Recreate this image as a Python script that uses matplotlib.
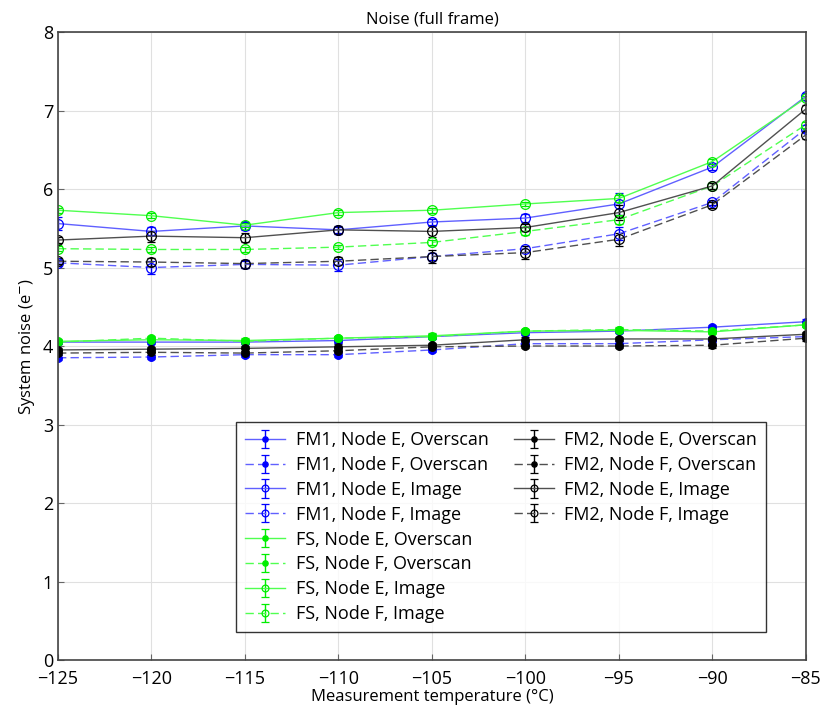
import matplotlib
matplotlib.use('Agg')
import matplotlib.pyplot as plt
from matplotlib.lines import Line2D
import numpy as np

plt.rcParams['font.family'] = ['Open Sans', 'DejaVu Sans']

temps = [-125, -120, -115, -110, -105, -100, -95, -90, -85]

# overscan noise
fm1_e_os = [4.05, 4.05, 4.05, 4.07, 4.12, 4.17, 4.19, 4.24, 4.31]
fm1_f_os = [3.85, 3.86, 3.89, 3.89, 3.95, 4.03, 4.03, 4.08, 4.12]
fs_e_os = [4.06, 4.08, 4.07, 4.10, 4.13, 4.19, 4.20, 4.18, 4.27]
fs_f_os = [4.05, 4.10, 4.06, 4.10, 4.12, 4.19, 4.21, 4.19, 4.27]
fm2_e_os = [3.95, 3.96, 3.97, 3.99, 4.01, 4.08, 4.09, 4.09, 4.15]
fm2_f_os = [3.91, 3.92, 3.91, 3.94, 3.99, 4.00, 4.00, 4.01, 4.10]

# image noise
fm1_e_im = [5.56, 5.46, 5.53, 5.48, 5.58, 5.63, 5.81, 6.28, 7.18]
fm1_f_im = [5.06, 5.00, 5.04, 5.03, 5.14, 5.24, 5.43, 5.83, 6.77]
fs_e_im = [5.73, 5.66, 5.54, 5.70, 5.73, 5.81, 5.88, 6.35, 7.16]
fs_f_im = [5.24, 5.23, 5.23, 5.26, 5.32, 5.46, 5.61, 6.04, 6.82]
fm2_e_im = [5.35, 5.40, 5.38, 5.48, 5.46, 5.51, 5.70, 6.04, 7.02]
fm2_f_im = [5.08, 5.07, 5.05, 5.08, 5.14, 5.19, 5.36, 5.80, 6.69]

# error bars
err_os = [0.03, 0.03, 0.03, 0.03, 0.03, 0.03, 0.03, 0.03, 0.03]
fm1_e_err = [0.08, 0.05, 0.05, 0.04, 0.04, 0.05, 0.14, 0.04, 0.04]
fm1_f_err = [0.04, 0.08, 0.04, 0.08, 0.04, 0.04, 0.08, 0.03, 0.04]
fs_e_err = [0.03, 0.03, 0.03, 0.03, 0.03, 0.03, 0.04, 0.03, 0.03]
fs_f_err = [0.03, 0.03, 0.03, 0.03, 0.03, 0.05, 0.06, 0.04, 0.04]
fm2_e_err = [0.04, 0.07, 0.06, 0.05, 0.07, 0.05, 0.10, 0.04, 0.05]
fm2_f_err = [0.04, 0.05, 0.05, 0.05, 0.08, 0.08, 0.08, 0.04, 0.05]

series = [
    # label, values, errors, dark colour, line colour, linestyle, filled
    ("FM1, Node E, Overscan", fm1_e_os, err_os, '#0000ff', '#6060ff', '-', True),
    ("FM1, Node F, Overscan", fm1_f_os, err_os, '#0000ff', '#6060ff', '--', True),
    ("FM1, Node E, Image", fm1_e_im, fm1_e_err, '#0000ff', '#6060ff', '-', False),
    ("FM1, Node F, Image", fm1_f_im, fm1_f_err, '#0000ff', '#6060ff', '--', False),
    ("FS, Node E, Overscan", fs_e_os, err_os, '#00ee00', '#50ff50', '-', True),
    ("FS, Node F, Overscan", fs_f_os, err_os, '#00ee00', '#50ff50', '--', True),
    ("FS, Node E, Image", fs_e_im, fs_e_err, '#00ee00', '#50ff50', '-', False),
    ("FS, Node F, Image", fs_f_im, fs_f_err, '#00ee00', '#50ff50', '--', False),
    ("FM2, Node E, Overscan", fm2_e_os, err_os, '#000000', '#505050', '-', True),
    ("FM2, Node F, Overscan", fm2_f_os, err_os, '#000000', '#505050', '--', True),
    ("FM2, Node E, Image", fm2_e_im, fm2_e_err, '#000000', '#505050', '-', False),
    ("FM2, Node F, Image", fm2_f_im, fm2_f_err, '#000000', '#505050', '--', False),
]

fig = plt.figure(figsize=(8.24, 7.15), dpi=100)
ax = fig.add_axes([0.0704, 0.0769, 0.9076, 0.8783])

handles = []
labels = []
for lab, vals, err, dark, light, ls, filled in series:
    h = ax.errorbar(temps, vals, yerr=err, color=light, ecolor=dark,
                    linestyle=ls, linewidth=1.0, elinewidth=1.0, capsize=3,
                    marker='o', markersize=5.5 if filled else 7,
                    markerfacecolor=dark if filled else 'none',
                    markeredgecolor=dark, markeredgewidth=0.9, label=lab,
                    dashes=(6, 3) if ls == '--' else (None, None))
    handles.append(h)
    labels.append(lab)

blank = Line2D([], [], linestyle='none', marker='none')
leg_handles = handles[:8] + handles[8:] + [blank] * 4
leg_labels = labels[:8] + labels[8:] + [''] * 4

ax.set_xlim(-125, -85)
ax.set_ylim(0, 8)
ax.set_xticks(temps)
ax.set_xticklabels(['\u2212%d' % abs(t) for t in temps])
ax.set_yticks(range(0, 9))
ax.grid(True, color='#e0e0e0', linewidth=0.8)
ax.set_axisbelow(True)
ax.tick_params(direction='in', labelsize=13, length=4, color='#666666')
ax.tick_params(axis='x', pad=7)
for s in ax.spines.values():
    s.set_color('#444444')
    s.set_linewidth(1.2)

ax.set_title('Noise (full frame)', fontsize=12, pad=6)
ax.set_xlabel('Measurement temperature (\u00b0C)', fontsize=12, labelpad=1)
ax.set_ylabel('System noise (e$^{-}$)', fontsize=12)

leg = ax.legend(leg_handles, leg_labels, ncol=2, loc='lower left',
                bbox_to_anchor=(0.226, 0.03), fontsize=13, frameon=True,
                fancybox=False, edgecolor='black', handlelength=2.2,
                labelspacing=0.38, columnspacing=1.4, borderpad=0.5,
                markerscale=0.7, handletextpad=0.6)
leg.get_frame().set_linewidth(1.0)

fig.savefig('out.png', dpi=100)
